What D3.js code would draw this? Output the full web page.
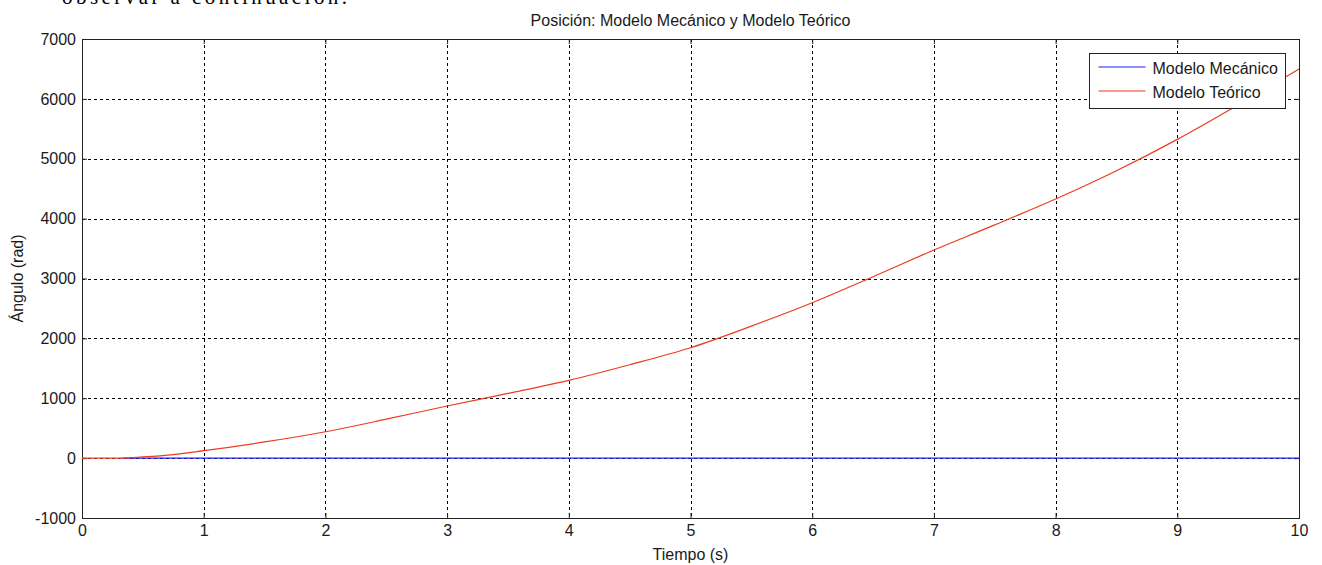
<!DOCTYPE html>
<html>
<head>
<meta charset="utf-8">
<script src="https://cdn.jsdelivr.net/npm/d3@7"></script>
<style>
  body { margin: 0; background: #fff; }
  svg text { font-family: "Liberation Sans", Arial, sans-serif; fill: #1a1a1a; }
</style>
</head>
<body>
<div id="chart"></div>
<script>
var width = 1322;
var height = 565;

// data
var tiempo   = [0, 0.33, 0.5, 0.75, 1, 1.5, 2, 2.5, 3, 3.5, 4, 4.5, 5, 5.5, 6, 6.5, 7, 7.5, 8, 8.5, 9, 9.5, 10];
var teorico  = [0, 0, 20, 60, 124, 270, 441, 650, 870, 1080, 1299, 1560, 1844, 2205, 2595, 3030, 3475, 3895, 4327, 4800, 5324, 5900, 6498];
var mecTiempo = [0.33, 10];
var mecanico  = [0, 0];
var xTicks = [0, 1, 2, 3, 4, 5, 6, 7, 8, 9, 10];
var yTicks = [-1000, 0, 1000, 2000, 3000, 4000, 5000, 6000, 7000];
var seriesNames = ["Modelo Mecánico", "Modelo Teórico"];
var seriesColors = ["#1f1fff", "#ee3a1e"];

var margin = { left: 82, right: 23, top: 39, bottom: 47 };
var pw = width - margin.left - margin.right;
var ph = height - margin.top - margin.bottom;

var svg = d3.select("#chart")
    .append("svg")
    .attr("width", width)
    .attr("height", height);

// cut-off line of document text above the figure
svg.append("text")
    .attr("x", 62)
    .attr("y", 3.5)
    .attr("textLength", 285)
    .style("font-family", "'Liberation Serif', 'Times New Roman', serif")
    .style("font-size", "21px")
    .style("fill", "#000")
    .text("observar a continuación.");

var x = d3.scaleLinear().domain([0, 10]).range([0, pw]);
var y = d3.scaleLinear().domain([-1000, 7000]).range([ph, 0]);

var fmt = function(d) { return String(d); };

var g = svg.append("g")
    .attr("transform", "translate(" + margin.left + "," + margin.top + ")");

// grid
g.append("g").selectAll("line")
    .data(xTicks.slice(1, -1))
    .enter().append("line")
    .attr("x1", function(d) { return Math.round(x(d)) + 0.5; })
    .attr("x2", function(d) { return Math.round(x(d)) + 0.5; })
    .attr("y1", 0).attr("y2", ph)
    .style("stroke", "#000").style("stroke-width", 1)
    .style("stroke-dasharray", "3,3");

g.append("g").selectAll("line")
    .data(yTicks.slice(1, -1))
    .enter().append("line")
    .attr("y1", function(d) { return Math.round(y(d)) + 0.5; })
    .attr("y2", function(d) { return Math.round(y(d)) + 0.5; })
    .attr("x1", 0).attr("x2", pw)
    .style("stroke", "#000").style("stroke-width", 1)
    .style("stroke-dasharray", "3,3");

// axes (ticks inside, MATLAB style)
var xAxis = d3.axisBottom(x).tickValues(xTicks).tickSize(-5).tickPadding(7).tickFormat(fmt);
var yAxis = d3.axisLeft(y).tickValues(yTicks).tickSize(-5).tickPadding(6).tickFormat(fmt);

var gx = g.append("g").attr("transform", "translate(0," + ph + ")").call(xAxis);
var gy = g.append("g").call(yAxis);
var gxt = g.append("g").call(d3.axisTop(x).tickValues(xTicks).tickSize(-5).tickFormat(""));
var gyr = g.append("g").attr("transform", "translate(" + pw + ",0)")
    .call(d3.axisRight(y).tickValues(yTicks).tickSize(-5).tickFormat(""));

[gx, gy, gxt, gyr].forEach(function(a) {
    a.select(".domain").remove();
    a.selectAll(".tick line").style("stroke", "#222");
    a.selectAll("text").style("font-size", "16px")
        .style("font-family", "'Liberation Sans', Arial, sans-serif").style("fill", "#1a1a1a");
});

// plot frame
g.append("rect")
    .attr("x", 0.5).attr("y", 0.5)
    .attr("width", pw).attr("height", ph)
    .style("fill", "none").style("stroke", "#222").style("stroke-width", 1);

// lines
var line = d3.line()
    .x(function(d) { return x(d[0]); })
    .y(function(d) { return y(d[1]); })
    .curve(d3.curveMonotoneX);

g.append("path")
    .datum(mecTiempo.map(function(t, i) { return [t, mecanico[i]]; }))
    .attr("d", line)
    .style("fill", "none").style("stroke", seriesColors[0]).style("stroke-width", 1.2);

g.append("path")
    .datum(tiempo.map(function(t, i) { return [t, teorico[i]]; }))
    .attr("d", line)
    .style("fill", "none").style("stroke", seriesColors[1]).style("stroke-width", 1.2);

// title and labels
svg.append("text")
    .attr("x", margin.left + pw / 2)
    .attr("y", 26)
    .attr("text-anchor", "middle")
    .style("font-size", "16px")
    .text("Posición: Modelo Mecánico y Modelo Teórico");

svg.append("text")
    .attr("x", margin.left + pw / 2)
    .attr("y", 560)
    .attr("text-anchor", "middle")
    .style("font-size", "16px")
    .text("Tiempo (s)");

svg.append("text")
    .attr("transform", "translate(23," + (margin.top + ph / 2) + ") rotate(-90)")
    .attr("text-anchor", "middle")
    .style("font-size", "16px")
    .text("Ángulo (rad)");

// legend
var legend = svg.append("g").attr("transform", "translate(1089.5,53.5)");
legend.append("rect")
    .attr("width", 196).attr("height", 55)
    .style("fill", "#fff").style("stroke", "#222").style("stroke-width", 1);

var items = legend.selectAll("g.item")
    .data(seriesNames)
    .enter().append("g")
    .attr("transform", function(d, i) { return "translate(0," + (14 + i * 24) + ")"; });

items.append("line")
    .attr("x1", 9).attr("x2", 56)
    .attr("y1", -0.5).attr("y2", -0.5)
    .style("stroke", function(d) { return seriesColors[seriesNames.indexOf(d)]; })
    .style("stroke-width", 1.2);

items.append("text")
    .attr("x", 63).attr("y", 6)
    .style("font-size", "16px")
    .text(function(d) { return d; });
</script>
</body>
</html>
